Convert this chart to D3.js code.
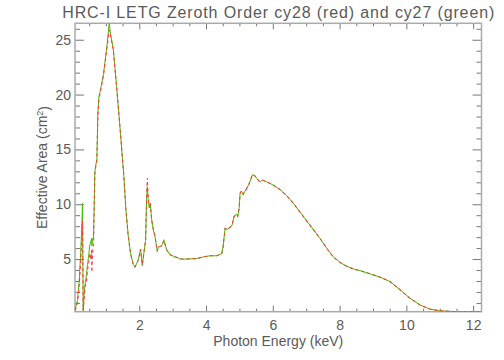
<!DOCTYPE html>
<html>
<head>
<meta charset="utf-8">
<title>HRC-I LETG Zeroth Order</title>
<script src="https://cdn.jsdelivr.net/npm/d3@7"></script>
<style>
  body { margin: 0; background: #fff; }
  text { font-family: "Liberation Sans", "DejaVu Sans", sans-serif; fill: #5a5a5a; }
</style>
</head>
<body>
<script>
var w = 504, h = 360;

// photon energy (keV)
var energy = [0.08, 0.15, 0.2, 0.25, 0.28, 0.30, 0.32, 0.35, 0.38, 0.42, 0.45, 0.48, 0.52, 0.55, 0.57, 0.58, 0.60, 0.63,
  0.67, 0.70, 0.73, 0.76, 0.79, 0.83, 0.93, 1.03, 1.10, 1.13, 1.22, 1.32, 1.42, 1.50, 1.54, 1.60, 1.67, 1.74, 1.82, 1.87,
  1.97, 2.04, 2.09, 2.14, 2.19, 2.22, 2.24, 2.27, 2.30, 2.33, 2.37, 2.42, 2.47, 2.54, 2.57, 2.67, 2.74, 2.82, 2.92, 3.07,
  3.17, 3.22, 3.42, 3.72, 3.92, 4.12, 4.32, 4.47, 4.51, 4.57, 4.63, 4.72, 4.78, 4.84, 4.92, 4.95, 4.99, 5.02, 5.06, 5.11,
  5.21, 5.28, 5.33, 5.39, 5.46, 5.56, 5.63, 5.69, 5.81, 6.01, 6.21, 6.41, 6.61, 6.81, 7.01, 7.21, 7.41, 7.61, 7.81, 8.01,
  8.21, 8.41, 8.61, 8.91, 9.21, 9.51, 9.81, 10.1, 10.4, 10.7, 11.0, 11.5, 12.25];

// effective area cy28 (red)
var areaCy28 = [0.3, 1.0, 2.5, 5.0, 7.0, 8.5, 0.3, 1.5, 2.5, 3.0, 4.0, 4.5, 5.5, 5.0, 5.8, 3.8, 5.5, 6.5,
  12.8, 13.5, 14.0, 18.0, 19.5, 20.2, 21.8, 24.2, 25.9, 25.5, 24.1, 20.7, 17.1, 14.0, 12.5, 9.5, 7.05, 5.5, 4.5, 4.27,
  4.9, 5.9, 4.5, 5.6, 6.75, 10.7, 12.4, 10.4, 9.7, 10.1, 8.6, 7.7, 7.1, 5.7, 6.1, 6.2, 6.7, 5.85, 5.4, 5.2,
  5.1, 5.0, 5.0, 5.05, 5.2, 5.3, 5.3, 5.5, 6.1, 7.8, 7.7, 7.9, 8.1, 8.9, 9.1, 8.9, 9.6, 11.0, 11.2, 10.9,
  11.4, 11.8, 12.2, 12.7, 12.6, 12.2, 12.05, 12.2, 12.05, 11.75, 11.35, 10.8, 10.1, 9.3, 8.5, 7.7, 6.9, 6.0, 5.2, 4.7,
  4.35, 4.1, 3.95, 3.66, 3.35, 2.95, 2.2, 1.44, 0.83, 0.44, 0.28, 0.2, 0.2];

// effective area cy27 (green)
var areaCy27 = [0.4, 1.3, 3.0, 5.8, 8.2, 10.1, 0.3, 1.8, 2.8, 3.6, 4.5, 5.2, 6.3, 6.6, 6.9, 6.2, 6.8, 7.0,
  13.0, 13.6, 14.1, 18.3, 19.8, 20.3, 21.9, 24.4, 26.5, 25.7, 24.2, 20.8, 17.1, 14.0, 12.5, 9.5, 7.1, 5.5, 4.5, 4.27,
  4.9, 5.9, 4.4, 5.6, 6.7, 10.5, 11.6, 10.3, 9.7, 10.1, 8.6, 7.7, 7.1, 5.7, 6.1, 6.2, 6.7, 5.85, 5.4, 5.2,
  5.1, 5.0, 5.0, 5.05, 5.2, 5.3, 5.3, 5.5, 6.1, 7.8, 7.7, 7.9, 8.1, 8.9, 9.1, 8.9, 9.6, 11.0, 11.2, 10.9,
  11.4, 11.8, 12.2, 12.7, 12.6, 12.2, 12.05, 12.2, 12.05, 11.75, 11.35, 10.8, 10.1, 9.3, 8.5, 7.7, 6.9, 6.0, 5.2, 4.7,
  4.35, 4.1, 3.95, 3.66, 3.35, 2.95, 2.2, 1.44, 0.83, 0.44, 0.28, 0.2, 0.2];

var xTicks = [2, 4, 6, 8, 10, 12];
var yTicks = [5, 10, 15, 20, 25];

var pL = 75, pR = 481.5, pT = 23.3, pB = 311.7;

var svg = d3.select("body").append("svg")
  .attr("width", w)
  .attr("height", h);

var x = d3.scaleLinear().domain([0.075, 12.25]).range([pL, pR]);
var y = d3.scaleLinear().domain([0.2, 26.5]).range([pB, pT]);

var xMinor = d3.range(0.5, 12.25, 0.5).filter(function(v) { return v % 2 !== 0; });
var yMinor = d3.range(1, 27, 1).filter(function(v) { return v % 5 !== 0; });

// axes: ticks pointing inward on all four sides, labels only bottom + left
function tickAxis(axisFn, scale, major, minor, majLen, minLen, labels) {
  var g = svg.append("g");
  g.append("g").call(axisFn(scale).tickValues(minor).tickSize(-minLen).tickFormat(""));
  var m = g.append("g").call(axisFn(scale).tickValues(major).tickSize(-majLen)
    .tickFormat(labels ? d3.format("d") : ""));
  g.selectAll("path.domain").remove();
  g.selectAll("line").attr("stroke", "#777");
  m.selectAll("text").attr("fill", "#5a5a5a").style("font-size", "14px");
  return g;
}

var gb = tickAxis(d3.axisBottom, x, xTicks, xMinor, 6, 3, true).attr("transform", "translate(0," + pB + ")");
gb.selectAll("text").attr("dy", "0.9em").attr("y", 6);
tickAxis(d3.axisTop, x, xTicks, xMinor, 6, 3, false).attr("transform", "translate(0," + pT + ")");
var gl = tickAxis(d3.axisLeft, y, yTicks, yMinor, 9, 5, true).attr("transform", "translate(" + pL + ",0)");
gl.selectAll("text").attr("x", -4);
tickAxis(d3.axisRight, y, yTicks, yMinor, 9, 5, false).attr("transform", "translate(" + pR + ",0)");

svg.append("rect")
  .attr("x", pL).attr("y", pT)
  .attr("width", pR - pL).attr("height", pB - pT)
  .attr("fill", "none").attr("stroke", "#aaa").attr("stroke-width", 1.5);

svg.append("clipPath").attr("id", "plotclip")
  .append("rect").attr("x", pL).attr("y", pT).attr("width", pR - pL).attr("height", pB - pT);

var line = d3.line()
  .x(function(d) { return x(d[0]); })
  .y(function(d) { return y(d[1]); });

var g27 = energy.map(function(e, i) { return [e, areaCy27[i]]; });
var g28 = energy.map(function(e, i) { return [e, areaCy28[i]]; });

svg.append("path").datum(g27)
  .attr("d", line).attr("fill", "none")
  .attr("stroke", "#44bb00").attr("stroke-width", 1)
  .attr("clip-path", "url(#plotclip)");

// red drawn dashed on top so both colours show where they overlap
svg.append("path").datum(g28)
  .attr("d", line).attr("fill", "none")
  .attr("stroke", "#ff3b3b").attr("stroke-width", 1.1)
  .attr("stroke-dasharray", "3,3")
  .attr("clip-path", "url(#plotclip)");

// title and axis labels
svg.append("text")
  .attr("x", (pL + pR) / 2).attr("y", 18)
  .attr("text-anchor", "middle")
  .attr("textLength", 432)
  .style("font-size", "16px")
  .text("HRC-I LETG Zeroth Order cy28 (red) and cy27 (green)");

svg.append("text")
  .attr("x", (pL + pR) / 2).attr("y", 346)
  .attr("text-anchor", "middle")
  .style("font-size", "14px")
  .text("Photon Energy (keV)");

var yl = svg.append("text")
  .attr("transform", "translate(47," + (pT + pB) / 2 + ") rotate(-90)")
  .attr("text-anchor", "middle")
  .style("font-size", "14px");
yl.append("tspan").text("Effective Area (cm");
yl.append("tspan").attr("dy", "-0.45em").style("font-size", "9px").text("2");
yl.append("tspan").attr("dy", "0.45em").text(")");
</script>
</body>
</html>
